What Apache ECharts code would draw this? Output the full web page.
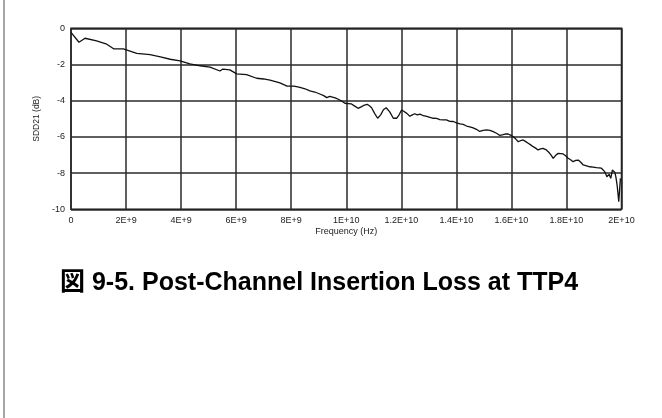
<!DOCTYPE html>
<html>
<head>
<meta charset="utf-8">
<title>Post-Channel Insertion Loss at TTP4</title>
<script src="https://cdn.jsdelivr.net/npm/echarts@6/dist/echarts.min.js"></script>
<style>
  html, body { margin: 0; padding: 0; background: #fff; }
  #chart { width: 662px; height: 418px; }
</style>
</head>
<body>
<div id="chart"></div>
<script>
// Measured differential insertion loss (SDD21) versus frequency.
const freqGHz = [
  0.00, 0.29, 0.51, 0.93, 1.30, 1.56, 1.90, 2.39, 2.87, 3.25, 3.60, 3.96,
  4.32, 4.69, 5.05, 5.41, 5.52, 5.77, 6.02, 6.38, 6.74, 7.00, 7.23, 7.59,
  7.85, 8.10, 8.32, 8.50, 8.68, 8.86, 9.04, 9.18, 9.29, 9.40, 9.47, 9.60,
  9.71, 9.83, 9.95, 10.07, 10.19, 10.31, 10.43, 10.56, 10.66, 10.76, 10.84,
  10.92, 11.03, 11.14, 11.25, 11.35, 11.45, 11.58, 11.71, 11.83, 11.92,
  12.01, 12.10, 12.20, 12.31, 12.40, 12.49, 12.58, 12.68, 12.80, 12.92,
  13.04, 13.16, 13.28, 13.40, 13.52, 13.64, 13.76, 13.89, 14.01, 14.13,
  14.25, 14.37, 14.49, 14.61, 14.73, 14.85, 14.97, 15.10, 15.22, 15.34,
  15.46, 15.58, 15.70, 15.80, 15.88, 15.97, 16.07, 16.16, 16.25, 16.34,
  16.43, 16.52, 16.61, 16.70, 16.79, 16.88, 16.97, 17.06, 17.15, 17.25,
  17.34, 17.43, 17.52, 17.61, 17.70, 17.79, 17.88, 17.97, 18.06, 18.15,
  18.24, 18.34, 18.43, 18.52, 18.61, 18.73, 18.85, 18.97, 19.09, 19.18,
  19.27, 19.33, 19.39, 19.43, 19.47, 19.51, 19.55, 19.58, 19.61, 19.64,
  19.67, 19.72, 19.76, 19.80, 19.84, 19.87, 19.90, 19.94, 19.96
];
const sdd21 = [
  -0.22, -0.77, -0.55, -0.70, -0.88, -1.14, -1.14, -1.38, -1.46, -1.58, -1.71, -1.80,
  -1.97, -2.07, -2.15, -2.36, -2.25, -2.30, -2.52, -2.56, -2.76, -2.80, -2.86, -3.02,
  -3.19, -3.20, -3.26, -3.34, -3.46, -3.52, -3.63, -3.72, -3.83, -3.76, -3.74, -3.84,
  -3.92, -4.02, -4.14, -4.16, -4.18, -4.30, -4.42, -4.33, -4.24, -4.20, -4.28,
  -4.39, -4.70, -4.97, -4.78, -4.50, -4.39, -4.62, -4.97, -4.97, -4.78,
  -4.51, -4.60, -4.70, -4.86, -4.78, -4.72, -4.78, -4.74, -4.83, -4.87,
  -4.92, -4.97, -4.98, -5.04, -5.06, -5.06, -5.14, -5.15, -5.22, -5.28,
  -5.31, -5.40, -5.44, -5.50, -5.58, -5.70, -5.64, -5.61, -5.64, -5.71,
  -5.80, -5.92, -5.88, -5.83, -5.84, -5.90, -5.99, -6.12, -6.27, -6.20,
  -6.17, -6.26, -6.35, -6.44, -6.54, -6.62, -6.72, -6.66, -6.63, -6.70,
  -6.82, -6.98, -7.18, -7.02, -6.91, -6.92, -6.94, -7.04, -7.18, -7.26,
  -7.37, -7.30, -7.28, -7.40, -7.55, -7.60, -7.65, -7.67, -7.70, -7.71,
  -7.73, -7.80, -7.92, -8.05, -8.20, -8.12, -8.07, -8.18, -8.29, -8.05,
  -7.83, -7.90, -7.96, -8.25, -8.66, -9.10, -9.58, -9.49, -8.29
];

// Axis tick labels, one per 2 GHz step and per 2 dB step.
const xTickLabels = ['0', '2E+9', '4E+9', '6E+9', '8E+9', '1E+10', '1.2E+10', '1.4E+10', '1.6E+10', '1.8E+10', '2E+10'];
const yTickLabels = ['-10', '-8', '-6', '-4', '-2', '0'];

const xStep = 2e9;
const yMin = -10, yStep = 2;
const points = freqGHz.map((f, i) => [f * 1e9, sdd21[i]]);

const FONT = '"Liberation Sans", Arial, Helvetica, sans-serif';
const chart = echarts.init(document.getElementById('chart'), null, { renderer: 'canvas' });

chart.setOption({
  animation: false,
  backgroundColor: '#ffffff',
  title: {
    text: '図 9-5. Post-Channel Insertion Loss at TTP4',
    left: 60,
    top: 271,
    padding: 0,
    textStyle: {
      fontSize: 25,
      fontWeight: 'bold',
      color: '#000',
      fontFamily: '"Liberation Sans", Arial, "Noto Sans CJK JP", sans-serif'
    }
  },
  graphic: [{
    type: 'line',
    shape: { x1: 4, y1: 0, x2: 4, y2: 418 },
    style: { stroke: '#8a8a8a', lineWidth: 1.5 }
  }],
  grid: {
    left: 71,
    right: 40.5,
    top: 28.3,
    bottom: 208.7,
    show: true,
    borderColor: '#111',
    borderWidth: 1.5,
    backgroundColor: '#fff'
  },
  xAxis: {
    type: 'value',
    min: 0,
    max: 2e10,
    interval: xStep,
    name: 'Frequency (Hz)',
    nameLocation: 'middle',
    nameGap: 18,
    nameTextStyle: { fontSize: 9, color: '#222', fontFamily: FONT },
    axisLine: { show: false },
    axisTick: { show: false },
    axisLabel: {
      margin: 7,
      fontSize: 9,
      color: '#222',
      fontFamily: FONT,
      formatter: v => xTickLabels[Math.round(v / xStep)]
    },
    splitLine: { show: true, lineStyle: { color: '#2a2a2a', width: 1.5 } }
  },
  yAxis: {
    type: 'value',
    min: yMin,
    max: 0,
    interval: yStep,
    name: 'SDD21 (dB)',
    nameLocation: 'middle',
    nameRotate: 90,
    nameGap: 20,
    nameTextStyle: { fontSize: 8.5, color: '#222', fontFamily: FONT },
    axisLine: { show: false },
    axisTick: { show: false },
    axisLabel: {
      margin: 6,
      fontSize: 9,
      color: '#222',
      fontFamily: FONT,
      formatter: v => yTickLabels[Math.round((v - yMin) / yStep)]
    },
    splitLine: { show: true, lineStyle: { color: '#2a2a2a', width: 1.5 } }
  },
  series: [{
    type: 'line',
    data: points,
    showSymbol: false,
    smooth: false,
    lineStyle: { color: '#111', width: 1.3 }
  }]
});
</script>
</body>
</html>
